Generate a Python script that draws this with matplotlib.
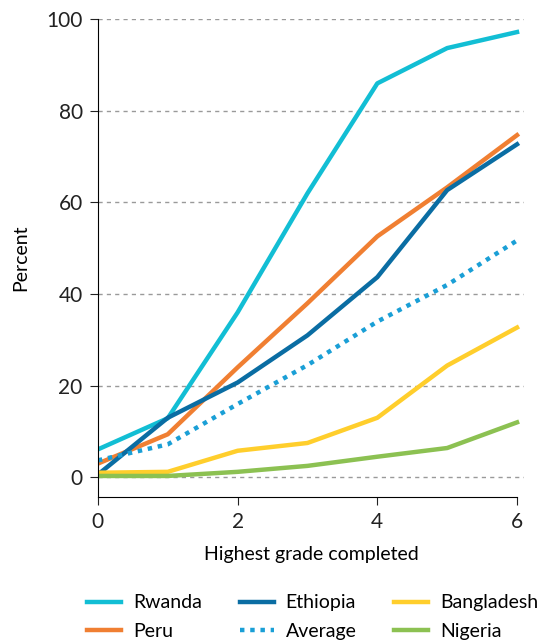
import matplotlib.pyplot as plt

grades = [0, 1, 2, 3, 4, 5, 6]
rwanda = [6.1, 12.9, 36.0, 62.0, 86.0, 93.7, 97.2]
peru = [3.0, 9.4, 24.0, 38.0, 52.6, 63.3, 74.7]
ethiopia = [0.6, 13.0, 20.7, 31.0, 43.7, 62.7, 72.7]
average = [3.7, 7.2, 16.0, 24.5, 34.0, 42.0, 51.7]
bangladesh = [1.0, 1.2, 5.8, 7.5, 13.0, 24.4, 32.7]
nigeria = [0.3, 0.3, 1.2, 2.5, 4.5, 6.4, 12.0]

plt.rcParams['font.family'] = ['Lato', 'DejaVu Sans']

fig = plt.figure(figsize=(5.38, 6.41), dpi=100)
ax = fig.add_axes([0.182, 0.2246, 0.792, 0.7454])

lw = 3.2
ax.plot(grades, rwanda, color='#12BED4', lw=lw, label='Rwanda')
ax.plot(grades, peru, color='#F07F32', lw=lw, label='Peru')
ax.plot(grades, ethiopia, color='#0A6DA3', lw=lw, label='Ethiopia')
ax.plot(grades, average, color='#1A9FD6', lw=lw, ls=(0, (1, 1.3)), dash_capstyle='butt', label='Average')
ax.plot(grades, bangladesh, color='#FFCE2C', lw=lw, label='Bangladesh')
ax.plot(grades, nigeria, color='#8CC152', lw=lw, label='Nigeria')

ax.set_xlim(0, 6.1)
ax.set_ylim(-4.3, 100)
ax.set_xticks([0, 2, 4, 6])
ax.set_yticks([0, 20, 40, 60, 80, 100])
for y in [0, 20, 40, 60, 80, 100]:
    ax.axhline(y, color='#9a9a9a', lw=1, ls=(0, (3, 3)), zorder=0)
ax.spines['top'].set_visible(False)
ax.spines['right'].set_visible(False)
ax.spines['left'].set_bounds(-4.3, 100)
ax.spines['bottom'].set_bounds(0, 6)
ax.tick_params(labelsize=15, colors='#222222', length=6, pad=5)
ax.set_xlabel('Highest grade completed', fontsize=14, labelpad=10)
ax.set_ylabel('Percent', fontsize=14, labelpad=12)

fig.legend(loc='lower left', bbox_to_anchor=(0.13, -0.026), ncol=3, frameon=False,
           fontsize=14, handlelength=1.75, handletextpad=0.6, columnspacing=1.95,
           labelspacing=0.6)

fig.savefig('out.png', dpi=100)
